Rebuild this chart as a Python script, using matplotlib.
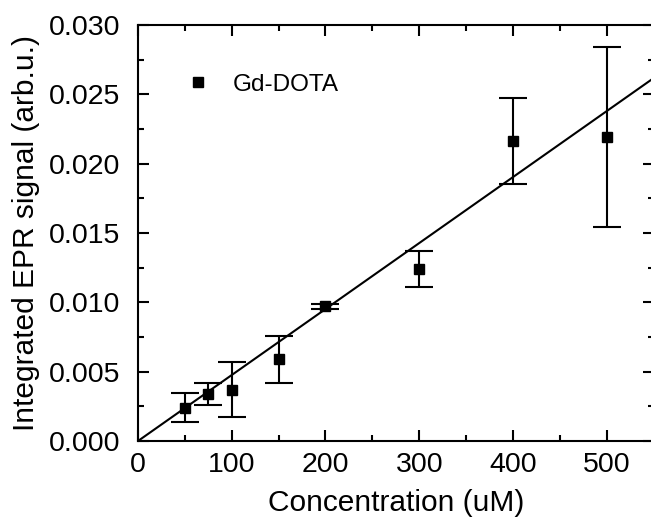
import matplotlib
matplotlib.use("Agg")
import matplotlib.pyplot as plt
from matplotlib.lines import Line2D
from matplotlib.ticker import MultipleLocator, FormatStrFormatter

plt.rcParams["font.family"] = ["Liberation Sans", "DejaVu Sans"]

# Gd-DOTA concentration series (uM) and integrated EPR signal
conc = [50, 75, 100, 150, 200, 300, 400, 500]
signal = [0.0024, 0.0034, 0.0037, 0.0059, 0.0097, 0.0124, 0.0216, 0.0219]
signal_err = [0.00106, 0.0008, 0.0020, 0.0017, 0.0002, 0.0013, 0.0031, 0.0065]

# linear fit through the origin
fit_x = [0, 550]
fit_y = [0, 0.02617]

fig = plt.figure(figsize=(6.51, 5.20), dpi=100)
ax = fig.add_axes([138 / 651, 79 / 520, 515.6 / 651, 416 / 520])

ax.plot(fit_x, fit_y, color="black", lw=1.5, zorder=2)
ax.errorbar(conc, signal, yerr=signal_err, fmt="s", color="black",
            ms=7, elinewidth=1.5, capsize=10, capthick=1.5, zorder=3)

ax.set_xlim(0, 550)
ax.set_ylim(0, 0.030)
ax.xaxis.set_major_locator(MultipleLocator(100))
ax.xaxis.set_minor_locator(MultipleLocator(50))
ax.yaxis.set_major_locator(MultipleLocator(0.005))
ax.yaxis.set_minor_locator(MultipleLocator(0.0025))
ax.yaxis.set_major_formatter(FormatStrFormatter("%.3f"))

ax.tick_params(which="both", direction="in", top=True, right=True,
               width=1.5, labelsize=20.5)
ax.tick_params(which="major", length=8)
ax.tick_params(which="minor", length=4.5)
ax.tick_params(axis="x", which="major", pad=8)
ax.tick_params(axis="y", which="major", pad=13)
for s in ax.spines.values():
    s.set_linewidth(1.5)

ax.set_xlabel("Concentration (uM)", fontsize=21.5, labelpad=8)
ax.set_ylabel("Integrated EPR signal (arb.u.)", fontsize=21.5, labelpad=6)

handle = Line2D([], [], marker="s", ls="none", color="black", ms=7)
ax.legend([handle], ["Gd-DOTA"], loc="center left", bbox_to_anchor=(0.0698, 0.856),
          frameon=False, fontsize=17.5, handletextpad=0.43, borderpad=0,
          borderaxespad=0)

fig.savefig("out.png", dpi=100)
